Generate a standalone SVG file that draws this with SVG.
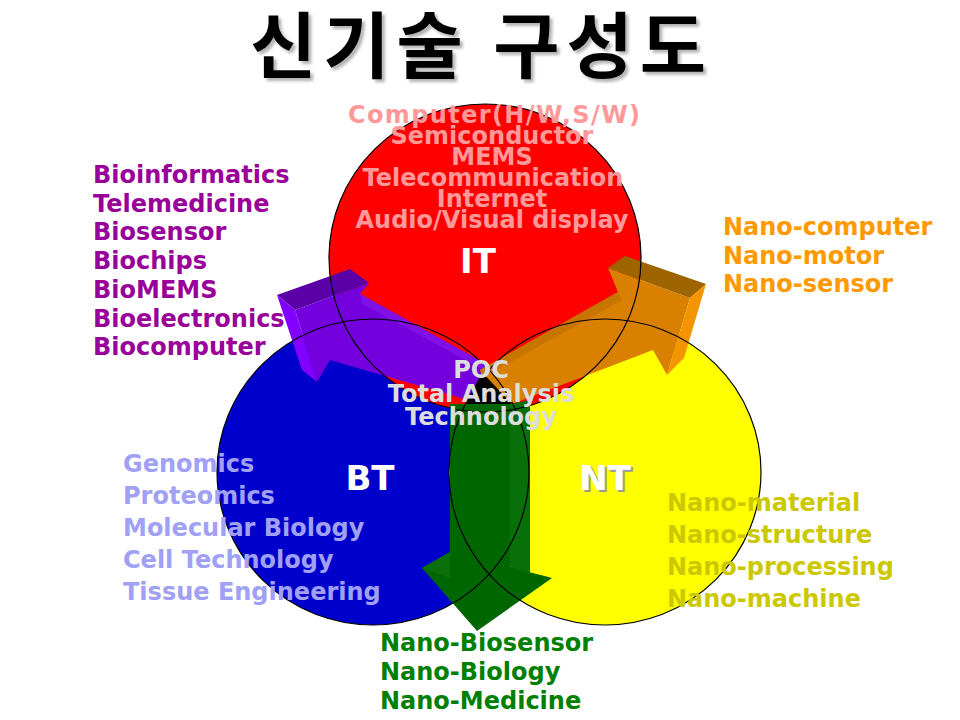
<svg xmlns="http://www.w3.org/2000/svg" width="960" height="720" viewBox="0 0 960 720">
<defs>
<style>
.t{font-family:"DejaVu Sans","Verdana",sans-serif;font-weight:bold;font-size:24px}
.big{font-family:"DejaVu Sans","Verdana",sans-serif;font-weight:bold;font-size:34px;fill:#FFFFFF;text-anchor:middle}
.title{font-family:"Noto Sans CJK KR","Noto Sans",sans-serif;font-weight:bold;font-size:72px;text-anchor:middle;letter-spacing:7px}
.ol{fill:none;stroke:#000;stroke-width:1.2}
.it{fill:#FF9999;text-anchor:middle}
.bio{fill:#990099}
.nano{fill:#FF9900}
.gen{fill:#A0A0F4}
.nt{fill:#CCC800}
.grn{fill:#008000}
.poc{fill:#DDDDDD;text-anchor:middle}
</style>
<filter id="blur" x="-10%" y="-10%" width="120%" height="130%"><feGaussianBlur stdDeviation="1.6"/></filter>
</defs>
<rect width="960" height="720" fill="#FFFFFF"/>

<g id="title">
<text class="title" x="484.5" y="75" fill="#b4b4b4" filter="url(#blur)">신기술 구성도</text>
<text class="title" x="481.5" y="72" fill="#000000">신기술 구성도</text>
</g>

<g id="node-BT"><ellipse cx="373" cy="472" rx="156" ry="153" fill="#0000CC"/></g>
<g id="node-NT"><ellipse cx="605" cy="472" rx="156" ry="153" fill="#FFFF00"/></g>
<g id="node-IT"><ellipse cx="485" cy="258" rx="156" ry="154" fill="#FF0000"/></g>

<g id="connectors">
<polygon points="482,372 520,408 464,406" fill="#000000"/>
<g id="arrow-purple">
<polygon points="295,310 369,283 360,294 486,364 468,400 330,360 317,382" fill="#7300DD"/>
<polygon points="360,294 486,364 484,370 362,304" fill="#7F10E6"/>
<polygon points="277,295 350,269 369,283 295,310" fill="#5A00A6"/>
<polygon points="277,295 295,310 317,382 302,370" fill="#8200FF"/>
</g>
<g id="arrow-orange">
<polygon points="608,268 690,298 667,375 653,350 512,404 480,370 618,292" fill="#D98000"/>
<polygon points="618,292 480,370 482,378 622,300" fill="#C87400"/>
<polygon points="608,268 625,256 706,284 690,298" fill="#9E6400"/>
<polygon points="690,298 706,284 684,358 667,375" fill="#F39400"/>
</g>
<g id="arrow-green">
<polygon points="450,404 510,404 510,566 528,572 552,578 477,631 422,568 450,552" fill="#006600"/>
<polygon points="510,404 530,400 530,574 510,566" fill="#087008"/>
<polygon points="422,568 450,552 450,578" fill="#0B700B"/>
<polygon points="510,566 530,574 552,578 528,572" fill="#0A6E0A"/>
</g>
</g>

<g id="outlines">
<ellipse class="ol" cx="373" cy="472" rx="156" ry="153"/>
<ellipse class="ol" cx="605" cy="472" rx="156" ry="153"/>
<ellipse class="ol" cx="485" cy="258" rx="156" ry="154"/>
</g>

<g id="labels">
<text class="big" x="478" y="273">IT</text>
<text class="big" x="370" y="490">BT</text>
<text class="big" x="607" y="492" style="fill:#9a9a9a">NT</text>
<text class="big" x="605" y="490">NT</text>
</g>

<g id="it-list" class="t it">
<text x="494" y="123" textLength="292" lengthAdjust="spacing">Computer(H/W,S/W)</text>
<text x="492" y="144">Semiconductor</text>
<text x="492" y="165">MEMS</text>
<text x="493" y="186">Telecommunication</text>
<text x="492" y="207">Internet</text>
<text x="492" y="228">Audio/Visual display</text>
</g>

<g id="poc" class="t poc">
<text x="481" y="378">POC</text>
<text x="481" y="402">Total Analysis</text>
<text x="481" y="425">Technology</text>
</g>

<g id="bio-list" class="t bio">
<text x="93" y="183">Bioinformatics</text>
<text x="93" y="212">Telemedicine</text>
<text x="93" y="240">Biosensor</text>
<text x="93" y="269">Biochips</text>
<text x="93" y="298">BioMEMS</text>
<text x="93" y="327">Bioelectronics</text>
<text x="93" y="355">Biocomputer</text>
</g>

<g id="nano-list" class="t nano">
<text x="723" y="235">Nano-computer</text>
<text x="723" y="264">Nano-motor</text>
<text x="723" y="292">Nano-sensor</text>
</g>

<g id="gen-list" class="t gen">
<text x="123" y="472">Genomics</text>
<text x="123" y="504">Proteomics</text>
<text x="123" y="536">Molecular Biology</text>
<text x="123" y="568">Cell Technology</text>
<text x="123" y="600">Tissue Engineering</text>
</g>

<g id="nt-list" class="t nt">
<text x="667" y="511">Nano-material</text>
<text x="667" y="543">Nano-structure</text>
<text x="667" y="575">Nano-processing</text>
<text x="667" y="607">Nano-machine</text>
</g>

<g id="green-list" class="t grn">
<text x="380" y="651">Nano-Biosensor</text>
<text x="380" y="680">Nano-Biology</text>
<text x="380" y="709">Nano-Medicine</text>
</g>
</svg>
